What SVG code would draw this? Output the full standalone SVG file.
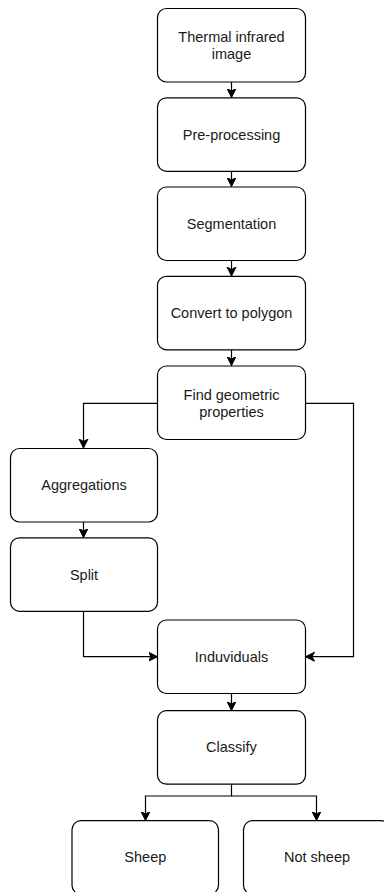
<svg xmlns="http://www.w3.org/2000/svg" width="384" height="892" viewBox="0 0 384 892">
  <style>
    .box { fill: #ffffff; stroke: #000000; stroke-width: 1.2; }
    .lbl { font-family: "Liberation Sans", Arial, Helvetica, sans-serif; font-size: 14.5px; fill: #1a1a1a; text-anchor: middle; }
    .edge { fill: none; stroke: #000000; stroke-width: 1.2; marker-end: url(#arrow); }
  </style>
  <defs>
    <marker id="arrow" markerUnits="userSpaceOnUse" markerWidth="12" markerHeight="12" refX="9" refY="5" orient="auto">
      <path d="M0,0.5 L9,5 L0,9.5 L2.5,5 Z" fill="#000000" stroke="#000000" stroke-width="1"/>
    </marker>
  </defs>

  <rect width="384" height="892" fill="#ffffff"/>

  <g id="connectors">
    <path class="edge" d="M231.5,82 L231.5,97.5"/>
    <path class="edge" d="M231.5,171.5 L231.5,186.5"/>
    <path class="edge" d="M231.5,260 L231.5,276"/>
    <path class="edge" d="M231.5,349.5 L231.5,365.5"/>
    <path class="edge" d="M157.5,403.3 L83.5,403.3 L83.5,448"/>
    <path class="edge" d="M305.5,403.3 L353.5,403.3 L353.5,656.7 L305.5,656.7"/>
    <path class="edge" d="M83.5,522 L83.5,537.5"/>
    <path class="edge" d="M83.5,611 L83.5,656.7 L157.5,656.7"/>
    <path class="edge" d="M231.5,693.5 L231.5,710.5"/>
    <path class="edge" d="M231.5,784 L231.5,796 L145.5,796 L145.5,820.5"/>
    <path class="edge" d="M231.5,796 L316.5,796 L316.5,820.5"/>
  </g>

  <g id="node-thermal">
    <rect class="box" x="157.5" y="8.5" width="148" height="73.5" rx="9"/>
    <text class="lbl" x="231.5" y="41.5">Thermal infrared</text>
    <text class="lbl" x="231.5" y="58.5">image</text>
  </g>
  <g id="node-preprocessing">
    <rect class="box" x="157.5" y="97.8" width="148" height="73.5" rx="9"/>
    <text class="lbl" x="231.5" y="139.5">Pre-processing</text>
  </g>
  <g id="node-segmentation">
    <rect class="box" x="157.5" y="187" width="148" height="73.5" rx="9"/>
    <text class="lbl" x="231.5" y="228.7">Segmentation</text>
  </g>
  <g id="node-polygon">
    <rect class="box" x="157.5" y="276.3" width="148" height="73.5" rx="9"/>
    <text class="lbl" x="231.5" y="318">Convert to polygon</text>
  </g>
  <g id="node-geometric">
    <rect class="box" x="157.5" y="366" width="148" height="73.5" rx="9"/>
    <text class="lbl" x="231.5" y="399.5">Find geometric</text>
    <text class="lbl" x="231.5" y="416.5">properties</text>
  </g>
  <g id="node-aggregations">
    <rect class="box" x="10.5" y="448.5" width="147" height="73.5" rx="9"/>
    <text class="lbl" x="84" y="490">Aggregations</text>
  </g>
  <g id="node-split">
    <rect class="box" x="10.5" y="537.8" width="147" height="73.5" rx="9"/>
    <text class="lbl" x="84" y="579.5">Split</text>
  </g>
  <g id="node-individuals">
    <rect class="box" x="157.5" y="620" width="148" height="73.5" rx="9"/>
    <text class="lbl" x="231.5" y="661.7">Induviduals</text>
  </g>
  <g id="node-classify">
    <rect class="box" x="157.5" y="710.7" width="148" height="73.5" rx="9"/>
    <text class="lbl" x="231.5" y="752.4">Classify</text>
  </g>
  <g id="node-sheep">
    <rect class="box" x="72" y="820.7" width="146.5" height="73.5" rx="9"/>
    <text class="lbl" x="145.3" y="862.4">Sheep</text>
  </g>
  <g id="node-notsheep">
    <rect class="box" x="243.5" y="820.7" width="147" height="73.5" rx="9"/>
    <text class="lbl" x="317" y="862.4">Not sheep</text>
  </g>
</svg>
